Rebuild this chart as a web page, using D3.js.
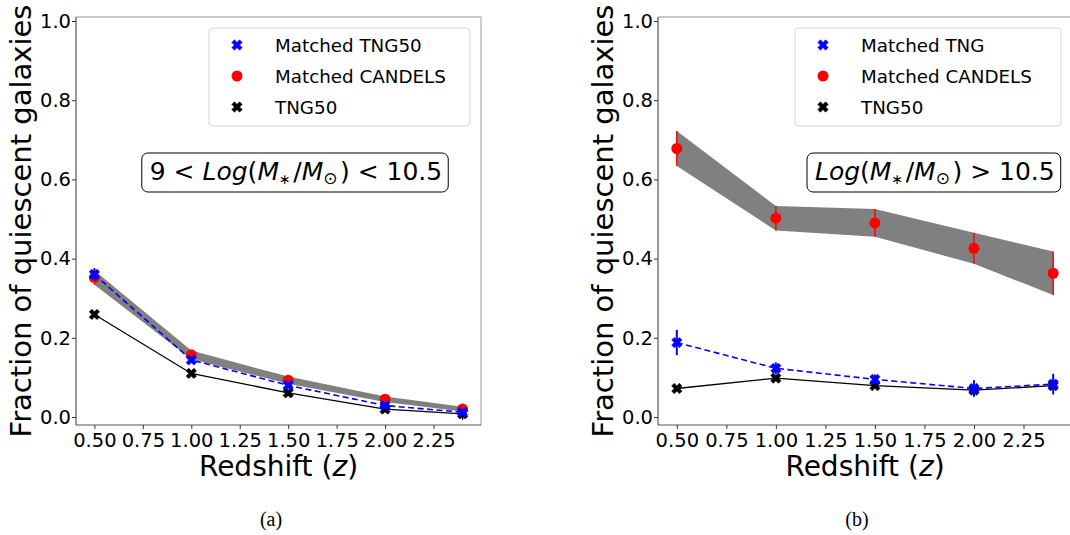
<!DOCTYPE html>
<html>
<head>
<meta charset="utf-8">
<script src="https://cdn.jsdelivr.net/npm/d3@7"></script>
<style>
  html, body { margin: 0; padding: 0; background: #fff; }
  svg { display: block; }
  text { font-family: "DejaVu Sans", sans-serif; fill: #000; }
  .caption { font-family: "Liberation Serif", "Times New Roman", serif; }
</style>
</head>
<body>
<svg id="fig" width="1070" height="535"></svg>
<script>
// Redshift bins shared by both panels
const redshift = [0.5, 1.0, 1.5, 2.0, 2.4];
const xTicks = [0.5, 0.75, 1.0, 1.25, 1.5, 1.75, 2.0, 2.25];
const yTicks = [0.0, 0.2, 0.4, 0.6, 0.8, 1.0];

// Panel (a): 9 < log(M*/Msun) < 10.5
const lowCandels       = [0.352, 0.157, 0.093, 0.045, 0.020];
const lowCandelsErr    = [0.018, 0.011, 0.009, 0.007, 0.006];
const lowMatchedTng    = [0.360, 0.144, 0.080, 0.029, 0.012];
const lowMatchedTngErr = [0.016, 0.008, 0.006, 0.005, 0.005];
const lowTng50         = [0.259, 0.110, 0.061, 0.020, 0.008];
const lowTng50Err      = [0.006, 0.006, 0.008, 0.008, 0.015];

// Panel (b): log(M*/Msun) > 10.5
const highCandels       = [0.678, 0.502, 0.490, 0.426, 0.363];
const highCandelsErr    = [0.044, 0.031, 0.035, 0.039, 0.055];
const highMatchedTng    = [0.188, 0.123, 0.095, 0.072, 0.083];
const highMatchedTngErr = [0.032, 0.015, 0.012, 0.021, 0.026];
const highTng50         = [0.072, 0.098, 0.079, 0.068, 0.079];
const highTng50Err      = [0.006, 0.007, 0.006, 0.006, 0.006];

const xDomain = [0.405, 2.495];
const yDomain = [-0.0202, 1.0101];

const svg = d3.select("#fig");

const panels = [
  {
    left: 76, right: 481, top: 17, bottom: 425,
    caption: "(a)", captionX: 271,
    legendLabels: ["Matched TNG50", "Matched CANDELS", "TNG50"],
    legendBox: { x: 209, y: 28, w: 261, h: 98 },
    legendMarkerX: 237, legendTextX: 275,
    annotation: "low", annotationCenter: 296,
    yLabelX: 31,
    candels: lowCandels, candelsErr: lowCandelsErr,
    matched: lowMatchedTng, matchedErr: lowMatchedTngErr,
    tng: lowTng50, tngErr: lowTng50Err
  },
  {
    left: 658, right: 1072, top: 17, bottom: 425,
    caption: "(b)", captionX: 857,
    legendLabels: ["Matched TNG", "Matched CANDELS", "TNG50"],
    legendBox: { x: 795, y: 28, w: 266, h: 98 },
    legendMarkerX: 823, legendTextX: 861,
    annotation: "high", annotationLeft: 815,
    yLabelX: 613,
    candels: highCandels, candelsErr: highCandelsErr,
    matched: highMatchedTng, matchedErr: highMatchedTngErr,
    tng: highTng50, tngErr: highTng50Err
  }
];

const crossPath = d3.symbol().type(d3.symbolCross).size(66)();

function drawX(g, x, y, color) {
  g.append("path")
    .attr("d", crossPath)
    .attr("transform", `translate(${x},${y}) rotate(45)`)
    .attr("fill", color)
    .attr("stroke", color)
    .attr("stroke-width", 0.6);
}

function drawPanel(p) {
  const x = d3.scaleLinear().domain(xDomain).range([p.left, p.right]);
  const y = d3.scaleLinear().domain(yDomain).range([p.bottom, p.top]);
  const g = svg.append("g");

  const clipId = "clip" + p.caption.replace(/\W/g, "");
  svg.append("clipPath").attr("id", clipId)
    .append("rect").attr("x", p.left).attr("y", p.top)
    .attr("width", p.right - p.left).attr("height", p.bottom - p.top);
  const plot = g.append("g").attr("clip-path", `url(#${clipId})`);

  const rows = redshift.map((z, i) => ({
    z,
    c: p.candels[i], ce: p.candelsErr[i],
    m: p.matched[i], me: p.matchedErr[i],
    t: p.tng[i], te: p.tngErr[i]
  }));

  // CANDELS uncertainty band
  plot.append("path")
    .datum(rows)
    .attr("fill", "#808080")
    .attr("d", d3.area()
      .x(d => x(d.z))
      .y0(d => y(d.c - d.ce))
      .y1(d => y(d.c + d.ce)));

  // TNG50: solid black line with error bars
  plot.append("path").datum(rows)
    .attr("fill", "none").attr("stroke", "#000").attr("stroke-width", 1.3)
    .attr("d", d3.line().x(d => x(d.z)).y(d => y(d.t)));
  plot.selectAll(".errT").data(rows).join("line")
    .attr("x1", d => x(d.z)).attr("x2", d => x(d.z))
    .attr("y1", d => y(d.t - d.te)).attr("y2", d => y(d.t + d.te))
    .attr("stroke", "#000").attr("stroke-width", 1.5);
  rows.forEach(d => drawX(plot, x(d.z), y(d.t), "#000"));

  // CANDELS: red points with error bars
  plot.selectAll(".errC").data(rows).join("line")
    .attr("x1", d => x(d.z)).attr("x2", d => x(d.z))
    .attr("y1", d => y(d.c - d.ce)).attr("y2", d => y(d.c + d.ce))
    .attr("stroke", "#ff0000").attr("stroke-width", 1.5);
  plot.selectAll(".ptC").data(rows).join("circle")
    .attr("cx", d => x(d.z)).attr("cy", d => y(d.c))
    .attr("r", 5.5).attr("fill", "#ff0000");

  // Matched TNG: dashed blue line with error bars
  plot.append("path").datum(rows)
    .attr("fill", "none").attr("stroke", "#0000ff").attr("stroke-width", 1.6)
    .attr("stroke-dasharray", "6,3.5")
    .attr("d", d3.line().x(d => x(d.z)).y(d => y(d.m)));
  plot.selectAll(".errM").data(rows).join("line")
    .attr("x1", d => x(d.z)).attr("x2", d => x(d.z))
    .attr("y1", d => y(d.m - d.me)).attr("y2", d => y(d.m + d.me))
    .attr("stroke", "#0000ff").attr("stroke-width", 2);
  rows.forEach(d => drawX(plot, x(d.z), y(d.m), "#0000ff"));

  // Frame
  g.append("line").attr("x1", p.left).attr("x2", p.right).attr("y1", p.top).attr("y2", p.top)
    .attr("stroke", "#999").attr("stroke-width", 1);
  g.append("line").attr("x1", p.right).attr("x2", p.right).attr("y1", p.top).attr("y2", p.bottom)
    .attr("stroke", "#999").attr("stroke-width", 1);

  // Axes
  const xAxis = g.append("g").attr("transform", `translate(0,${p.bottom})`)
    .call(d3.axisBottom(x).tickValues(xTicks).tickFormat(d3.format(".2f"))
      .tickSize(4).tickPadding(4).tickSizeOuter(0));
  const yAxis = g.append("g").attr("transform", `translate(${p.left},0)`)
    .call(d3.axisLeft(y).tickValues(yTicks).tickFormat(d3.format(".1f"))
      .tickSize(4).tickPadding(1).tickSizeOuter(0));
  [xAxis, yAxis].forEach(a => {
    a.attr("font-size", null).attr("font-family", null);
    a.select(".domain").attr("stroke", "#555").attr("stroke-width", 1.2);
    a.selectAll(".tick line").attr("stroke", "#333").attr("stroke-width", 1);
    a.selectAll(".tick text")
      .style("font-size", "19.5px")
      .style("font-family", "'DejaVu Sans', sans-serif")
      .attr("fill", "#000");
  });
  xAxis.select(".domain").attr("d", `M${p.left},0H${p.right}`);
  yAxis.select(".domain").attr("d", `M0,${p.top}V${p.bottom}`);

  // Axis titles
  const xTitle = g.append("text")
    .attr("x", (p.left + p.right) / 2).attr("y", 476)
    .attr("text-anchor", "middle").attr("font-size", 28);
  xTitle.append("tspan").text("Redshift (");
  xTitle.append("tspan").attr("font-style", "italic").text("z");
  xTitle.append("tspan").text(")");

  g.append("text")
    .attr("transform", `translate(${p.yLabelX},${(p.top + p.bottom) / 2}) rotate(-90)`)
    .attr("text-anchor", "middle").attr("font-size", 29)
    .text("Fraction of quiescent galaxies");

  // Legend
  const lb = p.legendBox;
  g.append("rect").attr("x", lb.x).attr("y", lb.y).attr("width", lb.w).attr("height", lb.h)
    .attr("rx", 4).attr("fill", "#fff").attr("stroke", "#d6d6d6").attr("stroke-width", 1);
  const rowsY = [45, 76, 107];
  drawX(g, p.legendMarkerX, rowsY[0], "#0000ff");
  g.append("circle").attr("cx", p.legendMarkerX).attr("cy", rowsY[1]).attr("r", 5.5).attr("fill", "#ff0000");
  drawX(g, p.legendMarkerX, rowsY[2], "#000");
  p.legendLabels.forEach((t, i) => {
    g.append("text").attr("x", p.legendTextX).attr("y", rowsY[i] + 7)
      .attr("font-size", 18.3).text(t);
  });

  // Mass-bin annotation, boxed
  const annBox = g.append("rect");
  const ann = g.append("text").attr("y", 180).attr("font-size", 25);
  const part = (s, italic) => {
    const t = ann.append("tspan").text(s);
    if (italic) t.attr("font-style", "italic");
    return t;
  };
  const sub = (s, size) => {
    ann.append("tspan").attr("dy", 4).attr("font-size", size).text(s);
    ann.append("tspan").attr("dy", -4).text("\u200a");
  };
  if (p.annotation === "low") part("9 < ");
  part("Log", true); part("("); part("M", true); sub("\u2217", 14);
  part("/"); part("M", true); sub("\u2299", 17); part(")");
  part(p.annotation === "low" ? " < 10.5" : " > 10.5");

  const bb = ann.node().getBBox();
  if (p.annotation === "low") ann.attr("x", p.annotationCenter - bb.width / 2);
  else ann.attr("x", p.annotationLeft);
  const bb2 = ann.node().getBBox();
  annBox
    .attr("x", bb2.x - 8).attr("y", 153)
    .attr("width", bb2.width + 14).attr("height", 39)
    .attr("rx", 6).attr("fill", "#fff").attr("stroke", "#000").attr("stroke-width", 1);

  // Panel caption
  svg.append("text").attr("class", "caption")
    .attr("x", p.captionX).attr("y", 526)
    .attr("text-anchor", "middle").attr("font-size", 20)
    .text(p.caption);
}

panels.forEach(drawPanel);
</script>
</body>
</html>
